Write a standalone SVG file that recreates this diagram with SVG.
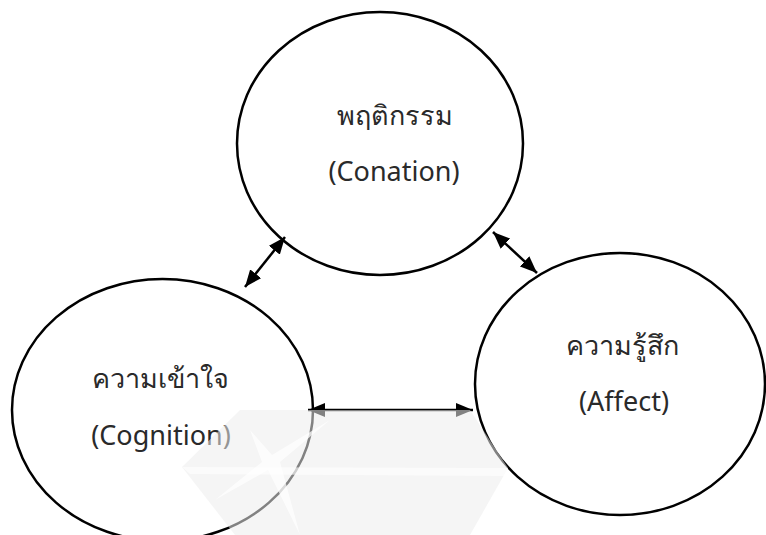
<svg xmlns="http://www.w3.org/2000/svg" width="766" height="535" viewBox="0 0 766 535">
<style>
.node ellipse{fill:none;stroke:#000;stroke-width:2.5}
.lbl{font-family:"Noto Sans","DejaVu Sans",sans-serif;font-size:27px;fill:#2a2a2a;text-anchor:middle}
.conn line{stroke:#000;stroke-width:2.5}
</style>
<defs>
<marker id="ah" viewBox="0 0 17 14" refX="17" refY="7" markerWidth="17" markerHeight="14" markerUnits="userSpaceOnUse" orient="auto-start-reverse">
<path d="M0,0 L17,7 L0,14 Z" fill="#000"/>
</marker>
</defs>
<rect width="766" height="535" fill="#fff"/>
<g id="node-conation" class="node">
<ellipse cx="380" cy="143.5" rx="143" ry="131.5"/>
<text class="lbl" x="395" y="125">พฤติกรรม</text>
<text class="lbl" x="394" y="181">(Conation)</text>
</g>
<g id="node-cognition" class="node">
<ellipse cx="162.5" cy="410" rx="150.5" ry="131"/>
<text class="lbl" x="160" y="388">ความเข้าใจ</text>
<text class="lbl" x="161" y="445">(Cognition)</text>
</g>
<g id="node-affect" class="node">
<ellipse cx="620" cy="384" rx="145" ry="131"/>
<text class="lbl" x="622" y="355">ความรู้สึก</text>
<text class="lbl" x="624" y="411">(Affect)</text>
</g>
<g id="connectors" class="conn">
<line x1="285" y1="237" x2="245" y2="287" marker-start="url(#ah)" marker-end="url(#ah)"/>
<line x1="493" y1="232" x2="537" y2="273" marker-start="url(#ah)" marker-end="url(#ah)"/>
<line x1="308" y1="410" x2="473" y2="410" marker-start="url(#ah)" marker-end="url(#ah)"/>
</g>
<g id="watermark">
<polygon points="240,410 470,410 508,468 470,535 235,535 182,467" fill="#ececec" opacity="0.55"/>
<polygon points="182,467 508,468 505,476 190,474" fill="#fff" opacity="0.6"/>
<polygon points="250,430 272,455 330,420 280,462 300,535 268,470 215,500 262,462" fill="#fff" opacity="0.7"/>
</g>
</svg>
